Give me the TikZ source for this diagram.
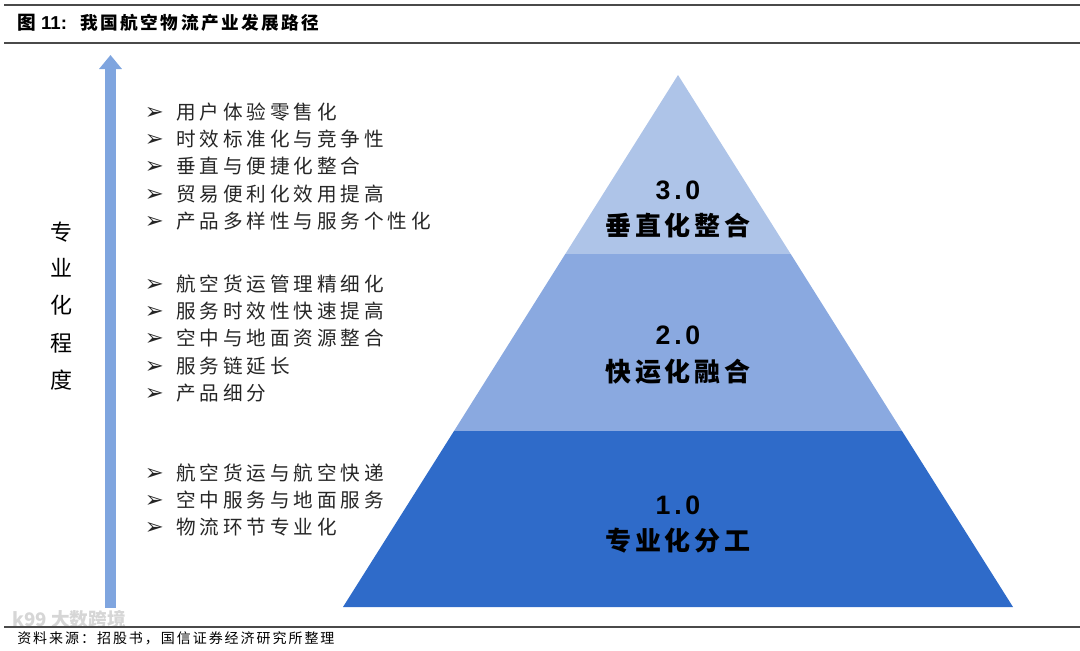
\documentclass[tikz,border=0pt]{standalone}
\usepackage{fontspec}
\usepackage{xcolor}
\usepackage{tikz}
\usetikzlibrary{arrows.meta}
\setmainfont{Liberation Sans}
\newfontfamily\cjk{Noto Sans CJK SC}
\newfontfamily\cjkwide[LetterSpace=14]{Noto Sans CJK SC}
\newfontfamily\cjklist[LetterSpace=20]{Noto Sans CJK SC}
\newfontfamily\numfont[LetterSpace=14]{Liberation Sans}
\newfontfamily\dingfont{DejaVu Sans}
\definecolor{tiertop}{HTML}{AEC4E8}
\definecolor{tiermid}{HTML}{8AA9E0}
\definecolor{tierlow}{HTML}{2F6BC9}
\definecolor{axisblue}{HTML}{7FA5DF}
\definecolor{rulegray}{HTML}{4A4A4A}
\newcommand{\itm}[1]{\makebox[22.5pt][l]{\hspace{-1pt}\dingfont\fontsize{17}{17}\selectfont ➢}#1}

\begin{document}
\begin{tikzpicture}[
          x=0.75pt, y=-0.75pt,
          rulel/.style={rulegray, line width=0.9pt},
          title/.style={anchor=west, inner sep=0pt, font=\bfseries\fontsize{14}{16}\selectfont},
          points/.style={anchor=north west, inner sep=0pt, align=left, text=black!85,
                         font=\cjklist\fontsize{14.7}{20.45}\selectfont},
          level/.style={inner sep=0pt, font=\numfont\bfseries\fontsize{20}{22}\selectfont},
          tiername/.style={inner sep=0pt, font=\cjkwide\bfseries\fontsize{19.5}{22}\selectfont},
          axisname/.style={inner sep=0pt, font=\cjk\fontsize{16.5}{18}\selectfont},
          arr/.style={-{Triangle[length=10.5pt, width=16.5pt]}, axisblue, line width=8.25pt}
      ]
        \useasboundingbox (0,0) rectangle (1080,650);

        % rules
        \coordinate (topl) at (4,5);     \coordinate (topr) at (1080,5);
        \coordinate (headl) at (4,43);   \coordinate (headr) at (1080,43);
        \coordinate (footl) at (4,627);  \coordinate (footr) at (1080,627);
        \draw[rulel] (topl) -- (topr);
        \draw[rulel] (headl) -- (headr);

        % watermark
        \node[anchor=west, inner sep=0pt, text=black!16, font=\cjk\bfseries\fontsize{14}{15}\selectfont]
              (mark) at (12,619) {k99 大数跨境};
        \draw[rulel] (footl) -- (footr);

        \node[title] (head) at (17,23)
              {{\cjk 图} 11:\hspace{10pt}{\cjkwide\fontsize{13.25}{15}\selectfont 我国航空物流产业发展路径}};
        \node[anchor=west, inner sep=0pt, font=\cjkwide\fontsize{10.5}{12}\selectfont] (source) at (17,638)
              {资料来源：招股书，国信证券经济研究所整理};

        % pyramid
        \coordinate (apex) at (678,75);
        \coordinate (topa) at (565.3,254);
        \coordinate (topb) at (790.7,254);
        \coordinate (mida) at (454,431);
        \coordinate (midb) at (902,431);
        \coordinate (lowa) at (343,607);
        \coordinate (lowb) at (1013,607);
        \fill[tiertop] (apex) -- (topb) -- (topa) -- cycle;
        \fill[tiermid] (topa) -- (topb) -- (midb) -- (mida) -- cycle;
        \fill[tierlow] (mida) -- (midb) -- (lowb) -- (lowa) -- cycle;

        \node[level] (v3) at (678,190) {3.0};
        \node[tiername] (n3) at (678,226) {垂直化整合};
        \node[level] (v2) at (678,335) {2.0};
        \node[tiername] (n2) at (678,372) {快运化融合};
        \node[level] (v1) at (678,505) {1.0};
        \node[tiername] (n1) at (678,541) {专业化分工};

        % axis
        \coordinate (axislow) at (110.5,608);
        \coordinate (axistop) at (110.5,55);
        \draw[arr] (axislow) -- (axistop);
        \node[axisname] (a1) at (61,232) {专};
        \node[axisname] (a2) at (61,268) {业};
        \node[axisname] (a3) at (61,305) {化};
        \node[axisname] (a4) at (61,343) {程};
        \node[axisname] (a5) at (61,380) {度};

        % bullet lists
        \node[points] (list3) at (146,102.5)
              {\itm{用户体验零售化} \\ \itm{时效标准化与竞争性} \\ \itm{垂直与便捷化整合} \\
               \itm{贸易便利化效用提高} \\ \itm{产品多样性与服务个性化}};
        \node[points] (list2) at (146,274.5)
              {\itm{航空货运管理精细化} \\ \itm{服务时效性快速提高} \\ \itm{空中与地面资源整合} \\
               \itm{服务链延长} \\ \itm{产品细分}};
        \node[points] (list1) at (146,463.5)
              {\itm{航空货运与航空快递} \\ \itm{空中服务与地面服务} \\ \itm{物流环节专业化}};
      \end{tikzpicture}
\end{document}
